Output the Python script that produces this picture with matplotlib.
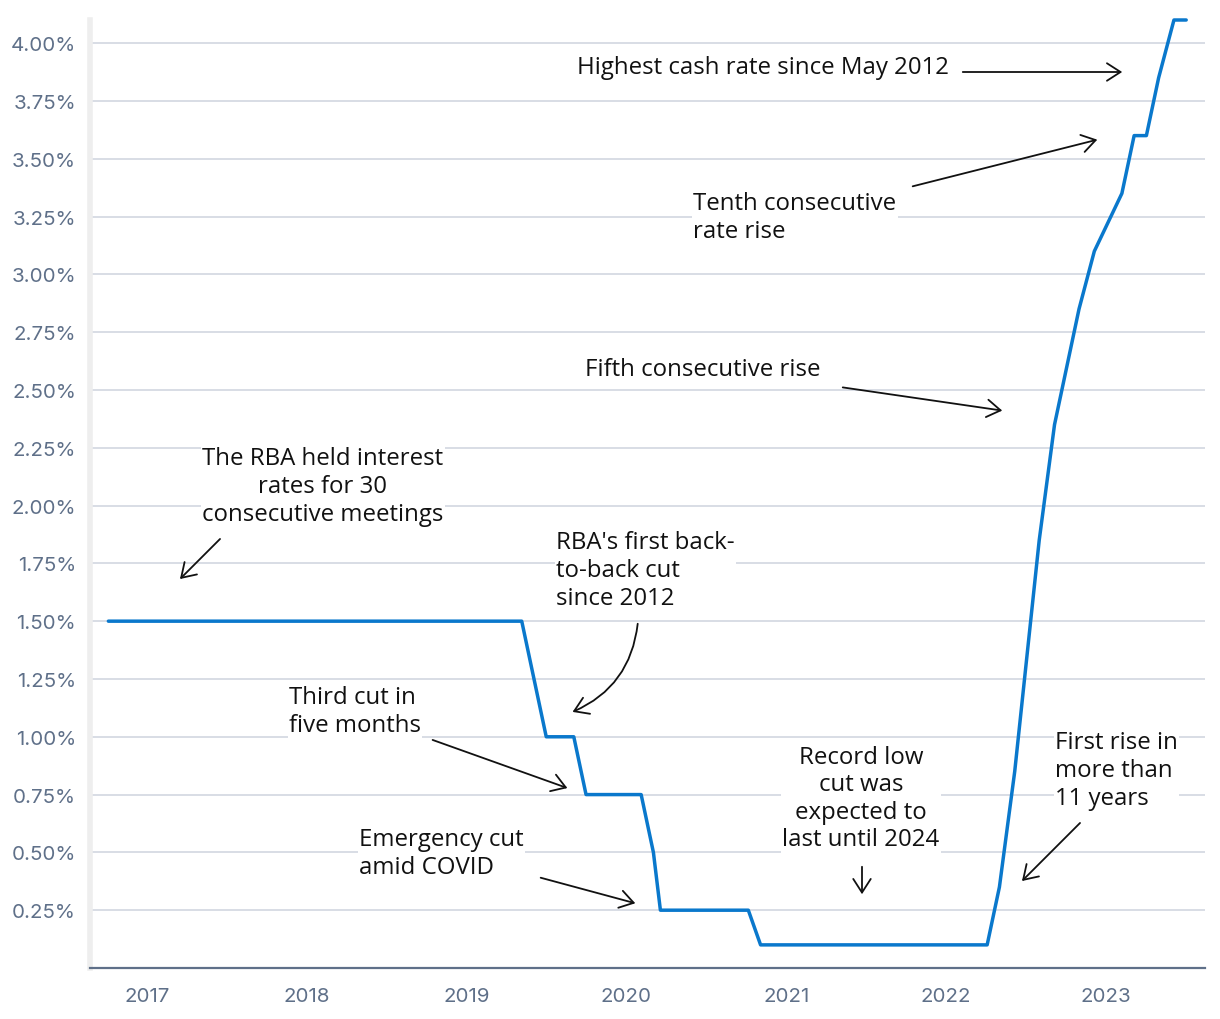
import matplotlib
matplotlib.use("Agg")
import numpy as np
import pandas as pd
import matplotlib.pyplot as plt
import matplotlib.dates as mdates

# RBA cash rate target at each board meeting (plus the March 2020 emergency cut)
meeting_dates = [
    "2016-10-04", "2016-11-01", "2016-12-06",
    "2017-02-07", "2017-03-07", "2017-04-04", "2017-05-02", "2017-06-06", "2017-07-04",
    "2017-08-01", "2017-09-05", "2017-10-03", "2017-11-07", "2017-12-05",
    "2018-02-06", "2018-03-06", "2018-04-03", "2018-05-01", "2018-06-05", "2018-07-03",
    "2018-08-07", "2018-09-04", "2018-10-02", "2018-11-06", "2018-12-04",
    "2019-02-05", "2019-03-05", "2019-04-02", "2019-05-07", "2019-06-04", "2019-07-02",
    "2019-08-06", "2019-09-03", "2019-10-01", "2019-11-05", "2019-12-03",
    "2020-02-04", "2020-03-03", "2020-03-19", "2020-04-07", "2020-05-05", "2020-06-02",
    "2020-07-07", "2020-08-04", "2020-09-01", "2020-10-06", "2020-11-03", "2020-12-01",
    "2021-02-02", "2021-03-02", "2021-04-06", "2021-05-04", "2021-06-01", "2021-07-06",
    "2021-08-03", "2021-09-07", "2021-10-05", "2021-11-02", "2021-12-07",
    "2022-02-01", "2022-03-01", "2022-04-05", "2022-05-03", "2022-06-07", "2022-07-05",
    "2022-08-02", "2022-09-06", "2022-10-04", "2022-11-01", "2022-12-06",
    "2023-02-07", "2023-03-07", "2023-04-04", "2023-05-02", "2023-06-06", "2023-07-04",
]
cash_rate = [
    1.50, 1.50, 1.50,
    1.50, 1.50, 1.50, 1.50, 1.50, 1.50,
    1.50, 1.50, 1.50, 1.50, 1.50,
    1.50, 1.50, 1.50, 1.50, 1.50, 1.50,
    1.50, 1.50, 1.50, 1.50, 1.50,
    1.50, 1.50, 1.50, 1.50, 1.25, 1.00,
    1.00, 1.00, 0.75, 0.75, 0.75,
    0.75, 0.50, 0.25, 0.25, 0.25, 0.25,
    0.25, 0.25, 0.25, 0.25, 0.10, 0.10,
    0.10, 0.10, 0.10, 0.10, 0.10, 0.10,
    0.10, 0.10, 0.10, 0.10, 0.10,
    0.10, 0.10, 0.10, 0.35, 0.85, 1.35,
    1.85, 2.35, 2.60, 2.85, 3.10,
    3.35, 3.60, 3.60, 3.85, 4.10, 4.10,
]

y_ticks = [0.25, 0.50, 0.75, 1.00, 1.25, 1.50, 1.75, 2.00, 2.25, 2.50,
           2.75, 3.00, 3.25, 3.50, 3.75, 4.00]
year_ticks = [2017, 2018, 2019, 2020, 2021, 2022, 2023]

# annotations: text, text position (px from top-left), arrow start, arrow end, alignment
notes = [
    ("Highest cash rate since May 2012", (577, 68), (960, 73), (1125, 73), "left", 0),
    ("Tenth consecutive\nrate rise", (693, 218), (910, 188), (1100, 140), "left", 0),
    ("Fifth consecutive rise", (585, 370), (840, 388), (1005, 412), "left", 0),
    ("The RBA held interest\nrates for 30\nconsecutive meetings", (323, 487), (222, 538), (178, 582), "center", 0),
    ("RBA's first back-\nto-back cut\nsince 2012", (556, 571), (638, 622), (570, 714), "left", -0.3),
    ("Third cut in\nfive months", (289, 712), (430, 740), (570, 790), "left", 0),
    ("Emergency cut\namid COVID", (359, 854), (538, 878), (638, 905), "left", 0),
    ("Record low\ncut was\nexpected to\nlast until 2024", (861, 799), (862, 865), (862, 898), "center", 0),
    ("First rise in\nmore than\n11 years", (1055, 771), (1082, 822), (1020, 884), "left", 0),
]

W, H = 1220, 1020
text_font = ["Open Sans", "DejaVu Sans"]
tick_color = "#5f7089"

fig = plt.figure(figsize=(W / 100, H / 100), dpi=100)
ax = fig.add_axes([90 / W, 1 - 969 / H, (1205 - 90) / W, (969 - 21) / H])

dates = pd.to_datetime(meeting_dates)
ax.plot(dates, cash_rate, color="#0a78cc", lw=2.5, solid_capstyle="round",
        solid_joinstyle="round", clip_on=False, zorder=3)

ax.set_xlim(pd.Timestamp("2016-08-23"), pd.Timestamp("2023-08-16"))
ax.set_ylim(0, 4.10)

ax.set_yticks(y_ticks)
ax.set_yticklabels([f"{v:.2f}%" for v in y_ticks])
ax.set_xticks([pd.Timestamp(f"{y}-01-01") for y in year_ticks])
ax.set_xticklabels([str(y) for y in year_ticks])
ax.tick_params(length=0, colors=tick_color, labelsize=14.8)
ax.tick_params(axis="y", pad=10)
ax.tick_params(axis="x", pad=14)
for lab in ax.get_xticklabels() + ax.get_yticklabels():
    lab.set_family(["Inter", "DejaVu Sans"])

ax.grid(axis="y", color="#d5dae3", lw=1.3)
ax.set_axisbelow(True)
for s in ["top", "right"]:
    ax.spines[s].set_visible(False)
ax.spines["left"].set_color("#eeeeee")
ax.spines["left"].set_linewidth(4)
ax.spines["bottom"].set_color(tick_color)
ax.spines["bottom"].set_linewidth(1.6)


def px(p):
    return (p[0] / W, 1 - p[1] / H)


for txt, tpos, a0, a1, ha, rad in notes:
    fig.text(*px(tpos), txt, ha=ha, va="center", fontsize=17.3, family=text_font,
             color="#111111", linespacing=1.2, multialignment=ha,
             bbox=dict(facecolor="white", edgecolor="none", pad=1), zorder=5)
    fig.add_artist(matplotlib.patches.FancyArrowPatch(
        px(a0), px(a1), transform=fig.transFigure,
        arrowstyle="->,head_length=0.7,head_width=0.45", mutation_scale=14,
        connectionstyle=f"arc3,rad={rad}", color="#111111", lw=1.3, zorder=5))

fig.savefig("out.png", dpi=100)
